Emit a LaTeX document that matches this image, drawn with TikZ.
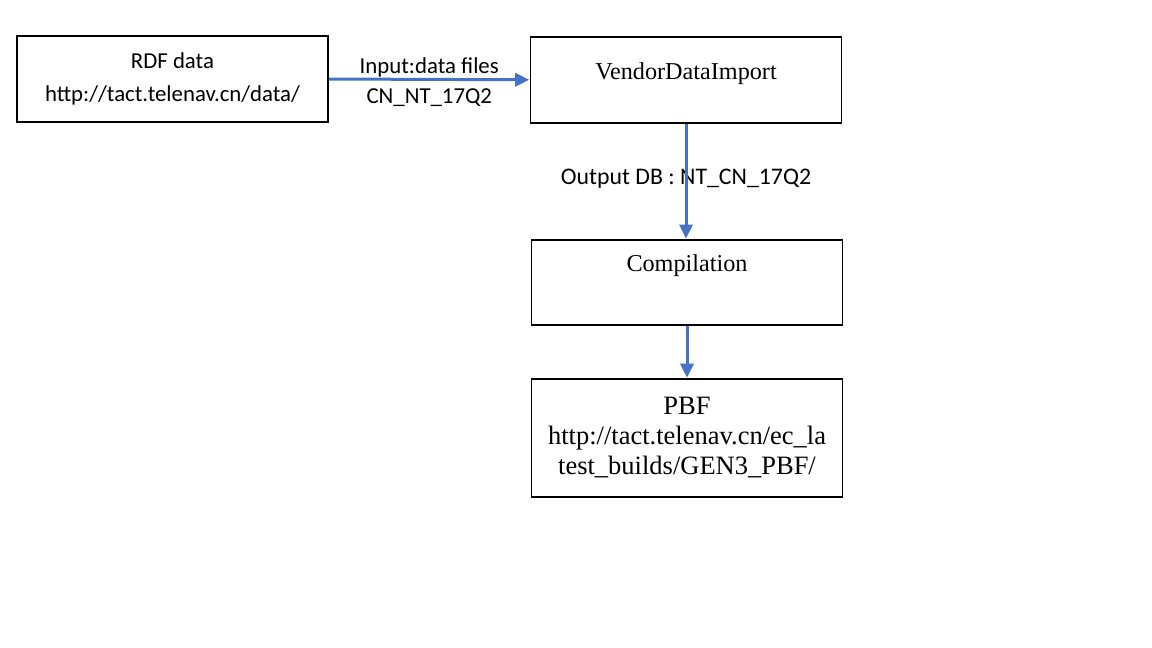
\documentclass[tikz,border=0pt]{standalone}
\usepackage{fontspec}
\setmainfont{Liberation Serif}
\setsansfont{Carlito}
\usetikzlibrary{arrows.meta, positioning, calc}
\definecolor{flowblue}{RGB}{68,114,196}

\begin{document}
\begin{tikzpicture}[x=1pt, y=-1pt,
        stagebox/.style={draw, rectangle, line width=1.6pt, inner sep=0pt, minimum width=311pt, align=center},
        flowarrow/.style={draw=flowblue, line width=3pt, -{Triangle[length=14pt, width=13pt]}, shorten >=0.5pt},
        edgetext/.style={font=\sffamily\fontsize{22.8}{30}\selectfont, inner sep=2pt}]
    \useasboundingbox (0,0) rectangle (1152,648);

    \node[stagebox, minimum height=86pt, font=\sffamily\fontsize{22.8}{33}\selectfont] (RDF) at (172.5,79) {RDF data\\http://tact.telenav.cn/data/};
    \node[stagebox, anchor=north, text height=43pt, text depth=43pt, font=\fontsize{24.2}{28}\selectfont] (VDI) at (686,36) {VendorDataImport};
    \node[stagebox, anchor=north, text height=32pt, text depth=53pt, font=\fontsize{24.2}{28}\selectfont] (COMP) at (687,239) {Compilation};
    \node[stagebox, minimum height=118pt, font=\fontsize{26.5}{30}\selectfont] (PBF) at (687,438) {PBF\\http://tact.telenav.cn/ec\_la\\test\_builds/GEN3\_PBF/};

    \draw [flowarrow] (RDF.east) -- (VDI.west)
        node[edgetext, midway, above=-1pt] (inlbl) {Input:data files}
        node[edgetext, midway, below=6pt] (cnlbl) {CN\_NT\_17Q2};
    \node[edgetext, font=\sffamily\fontsize{23.8}{30}\selectfont] (outlbl) at (686,179) {Output DB : NT\_CN\_17Q2};
    \draw [flowarrow] (VDI.south) -- (VDI.south |- COMP.north);
    \draw [flowarrow] (COMP.south) -- (PBF.north);
\end{tikzpicture}
\end{document}
